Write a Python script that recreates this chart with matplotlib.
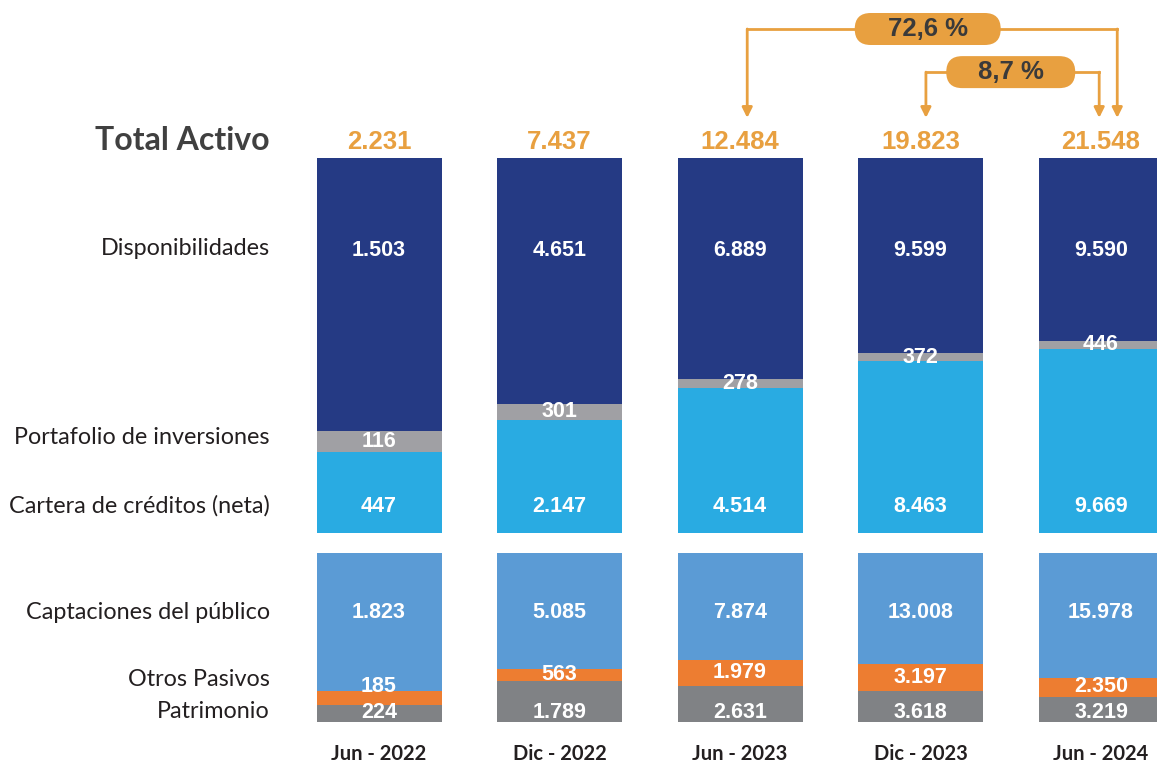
import numpy as np
import matplotlib.pyplot as plt
from matplotlib.patches import FancyBboxPatch

# datos
periodos = ['Jun - 2022', 'Dic - 2022', 'Jun - 2023', 'Dic - 2023', 'Jun - 2024']
total_activo = ['2.231', '7.437', '12.484', '19.823', '21.548']
disponibilidades = np.array([1503, 4651, 6889, 9599, 9590])
portafolio = np.array([116, 301, 278, 372, 446])
cartera = np.array([447, 2147, 4514, 8463, 9669])
captaciones = np.array([1823, 5085, 7874, 13008, 15978])
otros_pasivos = np.array([185, 563, 1979, 3197, 2350])
patrimonio = np.array([224, 1789, 2631, 3618, 3219])
variaciones = ['72,6 %', '8,7 %']

def fmt(v):
    return f'{v:,}'.replace(',', '.')

# colores
c_disp = '#253A84'
c_port = '#A0A0A4'
c_cart = '#29ABE2'
c_capt = '#5B9BD5'
c_otros = '#ED7D31'
c_patr = '#808285'
naranja = '#E8A040'
gris_txt = '#404040'

W, H = 1157, 766
fig = plt.figure(figsize=(W / 100, H / 100), dpi=100)

# posiciones (en pixeles) para ubicar los dos ejes
x0, dx = 379, 180.5
xlim = (-x0 / dx, (W - x0) / dx)
ax_a = fig.add_axes([0, (H - 533) / H, 1, 375 / H])
ax_p = fig.add_axes([0, (H - 722) / H, 1, 169 / H])

x = np.arange(len(periodos))
ancho = 125 / dx
val_font = dict(family='Liberation Sans', fontweight='bold', color='white', fontsize=15.5)
lab_font = dict(family='Lato', fontsize=16.8, color='#231F20')

# activos (100 % apilado)
tot_a = disponibilidades + portafolio + cartera
f_cart = cartera / tot_a
f_port = portafolio / tot_a
f_disp = disponibilidades / tot_a
ax_a.bar(x, f_cart, ancho, color=c_cart)
ax_a.bar(x, f_port, ancho, bottom=f_cart, color=c_port)
ax_a.bar(x, f_disp, ancho, bottom=f_cart + f_port, color=c_disp)
for i in x:
    ax_a.text(i, 0.752, fmt(disponibilidades[i]), ha='center', va='center', **val_font)
    ax_a.text(i, f_cart[i] + f_port[i] / 2, fmt(portafolio[i]), ha='center', va='center', **val_font)
    ax_a.text(i, 0.072, fmt(cartera[i]), ha='center', va='center', **val_font)
    ax_a.text(i, 1.043, total_activo[i], ha='center', va='center', family='Liberation Sans',
              fontweight='bold', fontsize=18.5, color=naranja, clip_on=False)

# pasivos y patrimonio
tot_p = captaciones + otros_pasivos + patrimonio
f_patr = patrimonio / tot_p
f_otros = otros_pasivos / tot_p
f_capt = captaciones / tot_p
ax_p.bar(x, f_patr, ancho, color=c_patr)
ax_p.bar(x, f_otros, ancho, bottom=f_patr, color=c_otros)
ax_p.bar(x, f_capt, ancho, bottom=f_patr + f_otros, color=c_capt)
for i in x:
    ax_p.text(i, 0.65, fmt(captaciones[i]), ha='center', va='center', **val_font)
    y_o = max(f_patr[i] + f_otros[i] / 2, 0.21)
    ax_p.text(i, y_o, fmt(otros_pasivos[i]), ha='center', va='center', **val_font)
    ax_p.text(i, 0.055, fmt(patrimonio[i]), ha='center', va='center', **val_font)

# etiquetas de la izquierda
xl = (270 - x0) / dx
ax_a.text(xl, 1.048, 'Total Activo', ha='right', va='center', family='Lato',
          fontweight='bold', fontsize=23, color=gris_txt, clip_on=False)
ax_a.text(xl, 0.758, 'Disponibilidades', ha='right', va='center', **lab_font)
ax_a.text(xl, 0.256, 'Portafolio de inversiones', ha='right', va='center', **lab_font)
ax_a.text(xl, 0.072, 'Cartera de créditos (neta)', ha='right', va='center', **lab_font)
ax_p.text(xl, 0.65, 'Captaciones del público', ha='right', va='center', **lab_font)
ax_p.text(xl, 0.25, 'Otros Pasivos', ha='right', va='center', **lab_font)
ax_p.text(xl, 0.06, 'Patrimonio', ha='right', va='center', **lab_font)

for i in x:
    ax_p.text(i, -0.19, periodos[i], ha='center', va='center', family='Lato',
              fontweight='bold', fontsize=14.5, color='#231F20', clip_on=False)

# flechas de variacion
def variacion(ax, texto, xc, yc, x_izq, x_der, w_px):
    px_x, px_y = dx, 375.0
    w = w_px / px_x
    h = 32 / px_y
    r = 16 / px_x
    caja = FancyBboxPatch((xc - w / 2, yc - h / 2), w, h,
                          boxstyle=f'round,pad=0,rounding_size={r}',
                          mutation_aspect=px_x / px_y, fc=naranja, ec='none',
                          clip_on=False, zorder=4)
    ax.add_patch(caja)
    ax.text(xc, yc, texto, ha='center', va='center', family='Liberation Sans',
            fontweight='bold', fontsize=18.5, color='#3A3A3A', zorder=5, clip_on=False)
    y_tip = 1.107
    for xa in (x_izq, x_der):
        ax.plot([xc, xa], [yc, yc], color=naranja, lw=2, clip_on=False, zorder=3)
        ax.annotate('', xy=(xa, y_tip), xytext=(xa, yc),
                    arrowprops=dict(arrowstyle='-|>,head_length=0.6,head_width=0.3',
                                    color=naranja, lw=2, shrinkA=0, shrinkB=0),
                    annotation_clip=False)

variacion(ax_a, variaciones[0], 3.04, 1.344, 2.04, 4.09, 146)
variacion(ax_a, variaciones[1], 3.5, 1.229, 3.03, 3.99, 129)

for ax in (ax_a, ax_p):
    ax.set_xlim(*xlim)
    ax.set_ylim(0, 1)
    ax.axis('off')

plt.savefig('out.png', dpi=100)
